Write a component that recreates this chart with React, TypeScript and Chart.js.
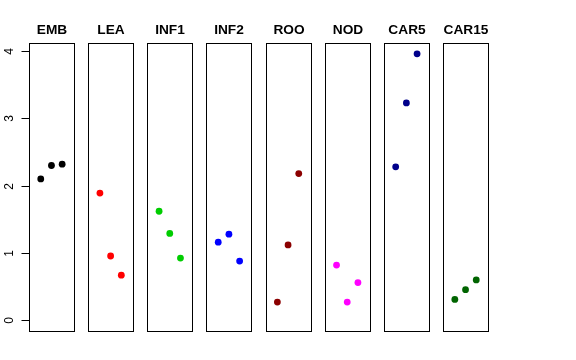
import React, { useEffect, useRef } from "react";
import { Chart, registerables } from "chart.js";

Chart.register(...registerables);

const groups = ["EMB", "LEA", "INF1", "INF2", "ROO", "NOD", "CAR5", "CAR15"];
const colors = ["#000000", "#FF0000", "#00CD00", "#0000FF", "#8B0000", "#FF00FF", "#00008B", "#006400"];
const emb = [2.1, 2.3, 2.32];
const lea = [1.89, 0.955, 0.67];
const inf1 = [1.62, 1.29, 0.925];
const inf2 = [1.16, 1.28, 0.88];
const roo = [0.27, 1.12, 2.18];
const nod = [0.82, 0.27, 0.56];
const car5 = [2.28, 3.23, 3.96];
const car15 = [0.31, 0.455, 0.6];
const seriesValues = [emb, lea, inf1, inf2, roo, nod, car5, car15];
const yTicks = [0, 1, 2, 3, 4];

const PITCH = 5.53;
const HALF = 2.1;

export default function App() {
  const ref = useRef<HTMLCanvasElement | null>(null);
  useEffect(() => {
    const canvas = ref.current;
    if (!canvas) return;
    const panelPlugin = {
      id: "panels",
      afterDatasetsDraw(chart: any) {
        const ctx = chart.ctx;
        const xs = chart.scales.x;
        const ys = chart.scales.y;
        const top = chart.chartArea.top;
        const bottom = chart.chartArea.bottom;
        ctx.save();
        ctx.strokeStyle = "#000";
        ctx.lineWidth = 1;
        groups.forEach((g, i) => {
          const l = Math.round(xs.getPixelForValue(i * PITCH - HALF)) + 0.5;
          const r = Math.round(xs.getPixelForValue(i * PITCH + HALF)) + 0.5;
          const t = Math.round(top) + 0.5;
          const b = Math.round(bottom) + 0.5;
          ctx.strokeRect(l, t, r - l, b - t);
          ctx.fillStyle = "#000";
          ctx.font = "bold 13.7px 'Liberation Sans', Arial, sans-serif";
          ctx.textAlign = "center";
          ctx.textBaseline = "alphabetic";
          ctx.fillText(g, (l + r) / 2, 34);
        });
        // y axis
        const axX = Math.round(xs.getPixelForValue(-HALF)) + 0.5;
        const y0 = ys.getPixelForValue(yTicks[0]);
        const y1 = ys.getPixelForValue(yTicks[yTicks.length - 1]);
        ctx.beginPath();
        ctx.moveTo(axX, y0);
        ctx.lineTo(axX, y1);
        ctx.stroke();
        ctx.font = "12px 'Liberation Sans', Arial, sans-serif";
        yTicks.forEach((v) => {
          const py = Math.round(ys.getPixelForValue(v)) + 0.5;
          ctx.beginPath();
          ctx.moveTo(axX - 8, py);
          ctx.lineTo(axX, py);
          ctx.stroke();
          ctx.save();
          ctx.translate(12.7, py);
          ctx.rotate(-Math.PI / 2);
          ctx.textAlign = "center";
          ctx.textBaseline = "alphabetic";
          ctx.fillText(String(v), 0, 0);
          ctx.restore();
        });
        ctx.restore();
      },
    };
    const chart = new Chart(canvas, {
      type: "scatter",
      data: {
        datasets: groups.map((g, i) => ({
          label: g,
          data: seriesValues[i].map((v, j) => ({ x: i * PITCH + (j - 1), y: v })),
          backgroundColor: colors[i],
          borderColor: colors[i],
          pointRadius: 3.4,
          pointBorderWidth: 0,
          showLine: false,
        })),
      },
      options: {
        animation: false,
        responsive: false,
        maintainAspectRatio: false,
        layout: { padding: { left: 29, right: 88, top: 42.7, bottom: 29.3 } },
        plugins: { legend: { display: false }, tooltip: { enabled: false } },
        scales: {
          x: { type: "linear", display: false, min: -HALF, max: 7 * PITCH + HALF },
          y: { type: "linear", display: false, min: -0.155, max: 4.125 },
        },
      },
      plugins: [panelPlugin],
    });
    return () => chart.destroy();
  }, []);
  return (
    <div style={{ position: "fixed", left: 0, top: 0, width: 576, height: 360, background: "#fff" }}>
      <canvas ref={ref} width={576} height={360} style={{ width: 576, height: 360 }} />
    </div>
  );
}
